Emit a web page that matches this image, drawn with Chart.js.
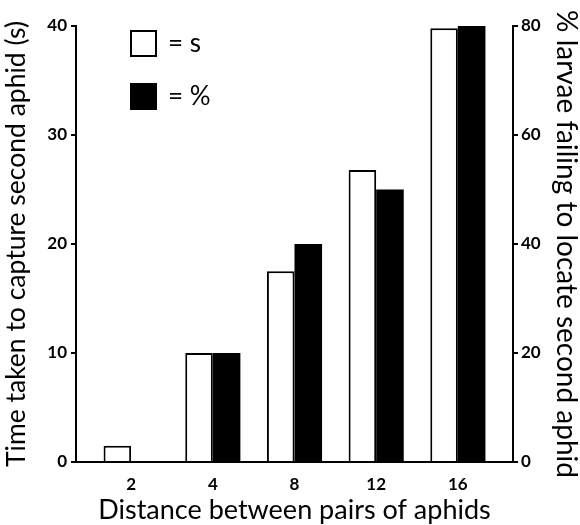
<!DOCTYPE html>
<html>
<head>
<meta charset="utf-8">
<script src="https://cdn.jsdelivr.net/npm/chart.js@4"></script>
<style>
  html, body { margin: 0; padding: 0; background: #fff; }
  #wrap { width: 580px; height: 525px; }
</style>
</head>
<body>
<div id="wrap"><canvas id="aphidChart"></canvas></div>
<script>
// values
const distances = ['2', '4', '8', '12', '16'];
const timeSeconds = [1.5, 10, 17.5, 26.8, 39.8];
const failingPct = [0, 20, 40, 50, 80];
const timeTicks = [0, 10, 20, 30, 40];
const pctTicks = [0, 20, 40, 60, 80];

const ink = '#000';
const tickFont = { family: 'Lato', size: 17, weight: 'bold' };

Chart.defaults.font.family = 'Lato';
Chart.defaults.color = ink;

// the figure's key: two boxes stacked in the top-left corner of the plot
const boxKey = {
    id: 'boxKey',
    afterDatasetsDraw(chart) {
        const { ctx, chartArea } = chart;
        ctx.save();
        chart.data.datasets.forEach((ds, i) => {
            const x = chartArea.left + 54;
            const y = chartArea.top + 4 + i * 53;
            ctx.fillStyle = ds.backgroundColor;
            ctx.fillRect(x, y, 27, 27);
            ctx.lineWidth = 2;
            ctx.strokeStyle = ink;
            ctx.strokeRect(x + 1, y + 1, 25, 25);
            ctx.fillStyle = ink;
            ctx.font = '26px Lato';
            ctx.textBaseline = 'middle';
            ctx.fillText(ds.label, x + 38, y + 14);
        });
        ctx.restore();
    }
};

const points = vals => vals.map((v, i) => ({ x: i + 1, y: v }));

const yAxis = (ticks, position, title, titleSize, width) => ({
    type: 'linear',
    position: position,
    min: ticks[0],
    max: ticks[ticks.length - 1],
    ticks: { stepSize: ticks[1] - ticks[0], padding: position === 'left' ? 4 : 3, font: tickFont, color: ink },
    grid: { drawOnChartArea: false, drawTicks: true, tickLength: 5, color: ink, lineWidth: 2 },
    border: { display: true, color: ink, width: 2 },
    title: {
        display: true,
        text: title,
        font: { family: 'Lato', size: titleSize, lineHeight: 1 },
        color: ink,
        padding: { top: position === 'left' ? 3 : 0, bottom: 0 }
    },
    afterFit: s => { s.width = width; }
});

new Chart(document.getElementById('aphidChart'), {
    type: 'bar',
    data: {
        datasets: [
            {
                label: '= s',
                data: points(timeSeconds),
                backgroundColor: '#fff',
                borderColor: ink,
                borderWidth: 2,
                yAxisID: 'y'
            },
            {
                label: '= %',
                data: points(failingPct),
                backgroundColor: ink,
                borderColor: ink,
                borderWidth: 0,
                yAxisID: 'y1'
            }
        ]
    },
    options: {
        responsive: true,
        maintainAspectRatio: false,
        animation: false,
        layout: { padding: { top: 26, left: 0, right: 0, bottom: 0 } },
        datasets: { bar: { categoryPercentage: 0.675, barPercentage: 1 } },
        plugins: { legend: { display: false }, tooltip: { enabled: false } },
        scales: {
            x: {
                type: 'linear',
                min: 0.325,
                max: 5.675,
                offset: false,
                grid: { display: false, offset: false },
                border: { display: true, color: ink, width: 2 },
                ticks: {
                    stepSize: 1,
                    includeBounds: false,
                    autoSkip: false,
                    maxRotation: 0,
                    padding: 4,
                    font: tickFont,
                    color: ink,
                    callback: v => distances[v - 1] ?? ''
                },
                title: {
                    display: true,
                    text: 'Distance between pairs of aphids',
                    font: { family: 'Lato', size: 27, lineHeight: 1 },
                    color: ink,
                    padding: { top: 0, bottom: 1 }
                },
                afterFit: s => { s.height = 63; }
            },
            y: yAxis(timeTicks, 'left', 'Time taken to capture second aphid (s)', 26.5, 76),
            y1: yAxis(pctTicks, 'right', '% larvae failing to locate second aphid', 28, 67)
        }
    },
    plugins: [boxKey]
});
</script>
</body>
</html>
